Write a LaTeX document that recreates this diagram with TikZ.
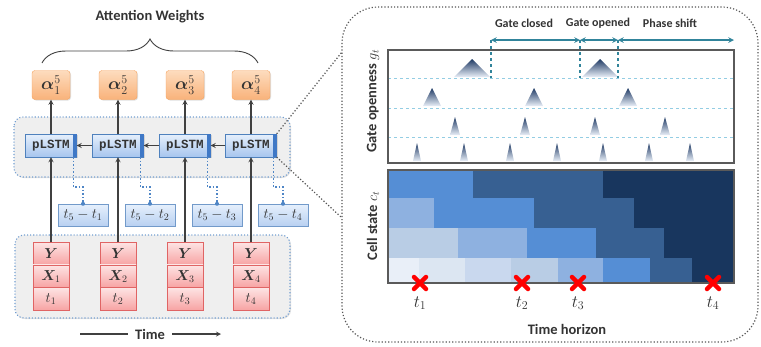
\documentclass[tikz,border=0pt]{standalone}
\usepackage{amsmath,amssymb,bm}
\usepackage{fontspec}
\setsansfont{Carlito}
\setmonofont{Liberation Mono}
\usetikzlibrary{positioning,calc,decorations.pathreplacing,shadows}

\definecolor{txtgray}{HTML}{333333}
\definecolor{arrgray}{HTML}{404040}
\definecolor{zoomgray}{HTML}{555555}
\definecolor{panelgray}{HTML}{5A5A5A}
\definecolor{grpfill}{HTML}{EFEFEF}
\definecolor{dotblue}{HTML}{4F86C6}
\definecolor{orangeD}{HTML}{F5A25D}
\definecolor{orangeL}{HTML}{FDDCBE}
\definecolor{orangeM}{HTML}{F9B27A}
\definecolor{blueD}{HTML}{4F81BD}
\definecolor{blueS}{HTML}{3F78C6}
\definecolor{blueL}{HTML}{E6F0FC}
\definecolor{blueM}{HTML}{A7C5EE}
\definecolor{redD}{HTML}{E06464}
\definecolor{pinkL}{HTML}{FDE4E4}
\definecolor{pinkM}{HTML}{F7A3A3}
\definecolor{gapblue}{HTML}{93CDE3}
\definecolor{gateteal}{HTML}{31849B}
\definecolor{peak}{HTML}{1F3A64}
\definecolor{cellA}{HTML}{E9EFF8}
\definecolor{cellB}{HTML}{DCE6F2}
\definecolor{cellC}{HTML}{C9D8EE}
\definecolor{cellD}{HTML}{B9CDE5}
\definecolor{cellE}{HTML}{8EB1E0}
\definecolor{cellF}{HTML}{558ED5}
\definecolor{cellG}{HTML}{376092}
\definecolor{cellH}{HTML}{18365E}

\begin{document}
\begin{tikzpicture}[
    x=1pt, y=-1pt,
    node distance=0pt,
    every node/.style={font=\sffamily, text=txtgray},
    shad/.style={drop shadow={opacity=0.25, shadow xshift=1pt, shadow yshift=-1pt}},
    grpbox/.style={draw=dotblue!80, dotted, line width=1.1pt, fill=grpfill, rounded corners=9pt, shad},
    alphabox/.style={draw=orangeD, rounded corners=3pt, top color=orangeL, bottom color=orangeM, minimum width=38pt, minimum height=29pt, inner sep=0pt, font=\fontsize{18}{20}\selectfont, shad},
    lstmbox/.style={draw=blueD, top color=blueL, bottom color=blueM, minimum width=51pt, minimum height=23pt, inner sep=0pt, font=\ttfamily\bfseries\fontsize{12.5}{14}\selectfont, shad},
    dtbox/.style={draw=blueD!80, top color=blueL, bottom color=blueM!80, minimum width=50pt, minimum height=22pt, inner sep=0pt, font=\fontsize{14.5}{16}\selectfont, shad},
    cellbox/.style={draw=redD, top color=pinkL, bottom color=pinkM, minimum width=36pt, minimum height=22.7pt, inner sep=0pt, outer sep=0pt, font=\fontsize{14.5}{16}\selectfont},
    arr/.style={->, >=stealth, draw=arrgray, line width=1.2pt},
    tdot/.style={draw=dotblue, dotted, line width=1.5pt},
    zoomline/.style={draw=zoomgray, dotted, line width=1.2pt},
    panel/.style={draw=panelgray, line width=1.6pt},
    gapline/.style={draw=gapblue, dashed, line width=0.7pt},
    gatearr/.style={<->, >=stealth, draw=gateteal, line width=1.5pt},
    gatemark/.style={draw=gateteal, dashed, line width=1.3pt},
    hdr/.style={font=\sffamily\bfseries\fontsize{14.5}{16}\selectfont},
    gatelab/.style={font=\sffamily\bfseries\fontsize{12}{14}\selectfont},
    xmark/.style={draw=red, line width=4.5pt, line cap=round}
  ]
    \useasboundingbox (0,0) rectangle (761,346);

    % left side: groups
    \draw[grpbox] (14,117) rectangle (290,177);
    \draw[grpbox] (15,235) rectangle (290,318);

    \node[hdr] (attn) at (150,17) {Attention Weights};
    \coordinate (brL) at (42,63);
    \coordinate (brR) at (258,63);
    \draw[decorate, decoration={brace, amplitude=24pt}, draw=arrgray, line width=0.9pt] (brL) -- (brR);

    \foreach \i/\x in {1/51,2/118,3/185,4/251} {
      \node[alphabox] (a\i) at (\x,85) {$\boldsymbol{\alpha}_{\i}^{5}$};
      \node[lstmbox] (p\i) at (\x,145.5) {pLSTM};
      \fill[blueS] ([xshift=-4pt]p\i.north east) rectangle (p\i.south east);
      \node[dtbox] (d\i) at (\x+32,215) {$t_5-t_{\i}$};
      \node[cellbox] (y\i) at (\x,253.5) {$\boldsymbol{Y}$};
      \node[cellbox, below=of y\i] (x\i) {$\boldsymbol{X}_{\i}$};
      \node[cellbox, below=of x\i] (t\i) {$t_{\i}$};
      \draw[arr] (p\i) -- (a\i);
      \draw[arr] (y\i) -- (p\i);
      \draw[tdot] ([xshift=-3pt]p\i.south east) -- ++(0,30) -| (d\i.north);
      \fill[dotblue] (d\i.north) circle (2pt);
    }
    \draw[arr] (p2) -- (p1);
    \draw[arr] (p3) -- (p2);
    \draw[arr] (p4) -- (p3);

    \node[hdr, inner sep=7pt] (time) at (150,334) {Time};
    \coordinate (timeL) at (80,334);
    \coordinate (timeR) at (221,334);
    \draw[draw=arrgray, line width=1.2pt] (timeL) -- (time);
    \draw[arr] (time) -- (timeR);

    % right side: zoomed view
    \draw[zoomline, rounded corners=36pt] (342,7) rectangle (758,342);
    \coordinate (zt) at (342,52);
    \coordinate (zb) at (342,218);
    \draw[zoomline] (p4.north east) -- (zt);
    \draw[zoomline] (p4.south east) -- (zb);

    % gate openness
    \foreach \yy in {78,108,137}
      \draw[gapline] (388,\yy) -- (734,\yy);
    \foreach \px/\py/\pb/\w in {472/59/77/18, 600/59/77/18,
        432/88/106/9, 534/88/106/9, 628/88/106/9,
        455/117/135/5, 525/117/135/5, 595/117/135/5, 665/117/135/5,
        417/143/161/4, 464/143/161/4, 510/143/161/4, 557/143/161/4,
        603/143/161/4, 649/143/161/4, 690/143/161/4}
      \shade[top color=peak, bottom color=cellA] (\px,\py) -- (\px+\w,\pb) -- (\px-\w,\pb) -- cycle;
    \draw[panel] (388,50) rectangle (734,163);
    \node[hdr, rotate=90] (glab) at (373,101) {Gate openness $g_t$};

    \coordinate (g1) at (491,40);
    \coordinate (g2) at (580,40);
    \coordinate (g3) at (618,40);
    \coordinate (g4) at (734,40);
    \coordinate (h1) at (491,78);
    \coordinate (h2) at (580,78);
    \coordinate (h3) at (618,78);
    \draw[gatemark] (g1) -- (h1);
    \draw[gatemark] (g2) -- (h2);
    \draw[gatemark] (g3) -- (h3);
    \draw[gatearr] (g1) -- (g2);
    \draw[gatearr] (g2) -- (g3);
    \draw[gatearr] (g3) -- (g4);
    \node[gatelab] (gclosed) at (524,23) {Gate closed};
    \node[gatelab] (gopened) at (598,23) {Gate opened};
    \node[gatelab] (gshift) at (670,23) {Phase shift};

    % cell state
    \foreach \ya/\yb/\xa/\xb/\c in {
        170/198/388/473/cellF, 170/198/473/603/cellG, 170/198/603/734/cellH,
        198/228/388/434/cellE, 198/228/434/534/cellF, 198/228/534/634/cellG, 198/228/634/734/cellH,
        228/258/388/458/cellD, 228/258/458/527/cellE, 228/258/527/596/cellF, 228/258/596/664/cellG,
        228/258/664/734/cellH,
        258/283/388/419/cellA, 258/283/419/465/cellB, 258/283/465/511/cellC, 258/283/511/558/cellD,
        258/283/558/603/cellE, 258/283/603/650/cellF, 258/283/650/692/cellG, 258/283/692/734/cellH}
      \fill[\c] (\xa,\ya) rectangle (\xb,\yb);
    \draw[panel] (388,170) rectangle (734,283);
    \node[hdr, rotate=90] (clab) at (373,226) {Cell state $c_t$};

    \foreach \i/\x in {1/420,2/522,3/578,4/713} {
      \coordinate (m\i) at (\x,283);
      \draw[xmark] ($(m\i)+(-6,-6)$) -- ($(m\i)+(6,6)$);
      \draw[xmark] ($(m\i)+(-6,6)$) -- ($(m\i)+(6,-6)$);
      \node[font=\fontsize{17}{19}\selectfont] (lt\i) at (\x,303) {$t_{\i}$};
    }
    \node[hdr] (horizon) at (567,329) {Time horizon};
  \end{tikzpicture}
\end{document}
